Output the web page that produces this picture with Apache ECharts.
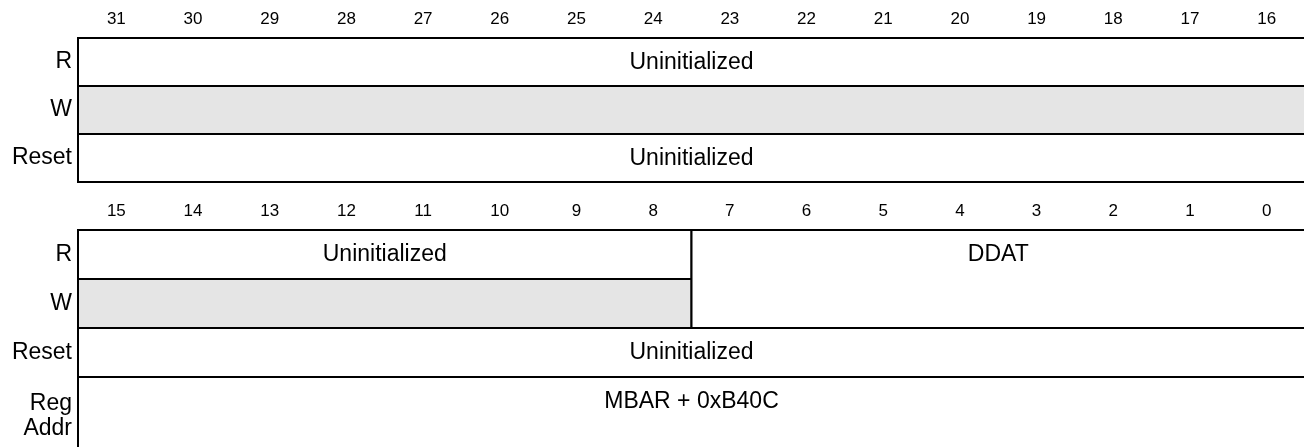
<!DOCTYPE html>
<html>
<head>
<meta charset="utf-8">
<script src="https://cdn.jsdelivr.net/npm/echarts@6/dist/echarts.min.js"></script>
<style>
html,body{margin:0;padding:0;background:#fff;overflow:hidden;}
#chart{width:1304px;height:447px;}
</style>
</head>
<body>
<div id="chart"></div>
<script>
// ---- data ----
const upperBits = ['31','30','29','28','27','26','25','24','23','22','21','20','19','18','17','16'];
const lowerBits = ['15','14','13','12','11','10','9','8','7','6','5','4','3','2','1','0'];
const accessRows = ['R','W','Reset'];
const addrRows = ['Reg\nAddr'];
// fields: [highBit, lowBit, firstRow, lastRow, text, reserved]
const upperFields = [
  [31, 16, 'R', 'R', 'Uninitialized', false],
  [31, 16, 'W', 'W', '', true],
  [31, 16, 'Reset', 'Reset', 'Uninitialized', false]
];
const lowerFields = [
  [15, 8, 'R', 'R', 'Uninitialized', false],
  [15, 8, 'W', 'W', '', true],
  [7, 0, 'R', 'W', 'DDAT', false],
  [15, 0, 'Reset', 'Reset', 'Uninitialized', false]
];
const addrFields = [
  [15, 0, 'Reg\nAddr', 'Reg\nAddr', 'MBAR + 0xB40C', false]
];

// ---- build ----
const FONT = '"Liberation Sans", Arial, Helvetica, sans-serif';
const GRAY = '#e5e5e5';

function toData(fields, bits, rows) {
  return fields.map(f => ({
    value: [bits.indexOf(String(f[0])), bits.indexOf(String(f[1])), rows.indexOf(f[2]), rows.indexOf(f[3])],
    text: f[4],
    reserved: f[5]
  }));
}

function makeRender(data) {
  return function (params, api) {
    const d = data[params.dataIndex];
    const c0 = api.value(0), c1 = api.value(1), r0 = api.value(2), r1 = api.value(3);
    const p0 = api.coord([c0, r0]);
    const p1 = api.coord([c1, r1]);
    const sz = api.size([1, 1]);
    const x = Math.min(p0[0], p1[0]) - sz[0] / 2;
    const w = Math.abs(p1[0] - p0[0]) + sz[0];
    const y = Math.min(p0[1], p1[1]) - sz[1] / 2;
    const h = Math.abs(p1[1] - p0[1]) + sz[1];
    const children = [{
      type: 'rect',
      shape: { x: x, y: y, width: w, height: h },
      style: { fill: d.reserved ? GRAY : '#fff', stroke: '#000', lineWidth: 2 }
    }];
    if (d.text) {
      children.push({
        type: 'text',
        style: {
          text: d.text, x: x + w / 2, y: y + Math.min(h, 48) / 2 + 1,
          align: 'center', verticalAlign: 'middle',
          fontFamily: FONT, fontSize: 23, fill: '#000'
        },
        z2: 10
      });
    }
    return { type: 'group', children: children };
  };
}

const upperData = toData(upperFields, upperBits, accessRows);
const lowerData = toData(lowerFields, lowerBits, accessRows);
const addrData = toData(addrFields, lowerBits, addrRows);

function xAx(gi, bits, show) {
  return {
    type: 'category', gridIndex: gi, data: bits, position: 'top',
    axisLine: { show: false }, axisTick: { show: false }, splitLine: { show: false },
    axisLabel: { show: show, margin: 10, fontFamily: FONT, fontSize: 17, color: '#000' }
  };
}
function yAx(gi, rows) {
  return {
    type: 'category', gridIndex: gi, data: rows, inverse: true,
    axisLine: { show: false }, axisTick: { show: false }, splitLine: { show: false },
    axisLabel: { margin: 6, fontFamily: FONT, fontSize: 23, color: '#000', lineHeight: 25, align: 'right' }
  };
}

const chart = echarts.init(document.getElementById('chart'), null, { renderer: 'canvas' });
chart.setOption({
  animation: false,
  backgroundColor: '#fff',
  grid: [
    { left: 78, width: 1227, top: 38, height: 144, outerBoundsMode: 'none', containLabel: false },
    { left: 78, width: 1227, top: 230, height: 147, outerBoundsMode: 'none', containLabel: false },
    { left: 78, width: 1227, top: 377, height: 78, outerBoundsMode: 'none', containLabel: false }
  ],
  xAxis: [xAx(0, upperBits, true), xAx(1, lowerBits, true), xAx(2, lowerBits, false)],
  yAxis: [yAx(0, accessRows), yAx(1, accessRows), yAx(2, addrRows)],
  series: [
    { type: 'custom', xAxisIndex: 0, yAxisIndex: 0, data: upperData, renderItem: makeRender(upperData), encode: { x: [0, 1], y: [2, 3] }, clip: false, silent: true },
    { type: 'custom', xAxisIndex: 1, yAxisIndex: 1, data: lowerData, renderItem: makeRender(lowerData), encode: { x: [0, 1], y: [2, 3] }, clip: false, silent: true },
    { type: 'custom', xAxisIndex: 2, yAxisIndex: 2, data: addrData, renderItem: makeRender(addrData), encode: { x: [0, 1], y: [2, 3] }, clip: false, silent: true }
  ]
});
</script>
</body>
</html>
